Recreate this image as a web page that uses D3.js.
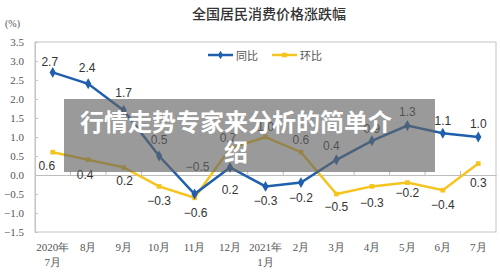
<!DOCTYPE html>
<html><head><meta charset="utf-8">
<script src="https://cdn.jsdelivr.net/npm/d3@7"></script>
<style>html,body{margin:0;padding:0;background:#fff;}svg{display:block;}</style>
</head><body>
<script>
const categories = ["2020年7月","8月","9月","10月","11月","12月","2021年1月","2月","3月","4月","5月","6月","7月"];
const xTickLabels = [["2020年","7月"],["8月"],["9月"],["10月"],["11月"],["12月"],["2021年","1月"],["2月"],["3月"],["4月"],["5月"],["6月"],["7月"]];
const yoyValues = [2.7, 2.4, 1.7, 0.5, -0.5, 0.2, -0.3, -0.2, 0.4, 0.9, 1.3, 1.1, 1.0];
const momValues = [0.6, 0.4, 0.2, -0.3, -0.6, 0.7, 1.0, 0.6, -0.5, -0.3, -0.2, -0.4, 0.3];
const yTicks = [-1.5, -1.0, -0.5, 0.0, 0.5, 1.0, 1.5, 2.0, 2.5, 3.0, 3.5];
const seriesNames = ["同比", "环比"];
const titleText = "全国居民消费价格涨跌幅";
const unitText = "(%)";
const overlayLines = ["行情走势专家来分析的简单介", "绍"];

// label placement (drawing style, not data)
const yoyLabelDy = [-10,-16,-17,-16,-27,23,15,15,-14,-12,-14,-12,-13];
const yoyLabelDx = [-3,-1,0,0,3,0,0,0,-5,0,0,0,0];
const momLabelDy = [14,15,14,15,15,-10,-10,-12,13,17,10,15,19];
const momLabelDx = [-6,-3,1,0,1,-2,0,0,0,0,0,0,0];

const W = 500, H = 272;
const blue = "#1f5fad", yellow = "#f4c41f";
const svg = d3.select("body").append("svg").attr("width", W).attr("height", H);

const x = d3.scaleBand().domain(categories).range([35, 496]);
const y = d3.scaleLinear().domain([-1.5, 3.5]).range([232, 42]);

// title
svg.append("text").attr("x", 269).attr("y", 19).attr("text-anchor","middle")
  .attr("font-family","Noto Sans CJK SC").attr("font-size",14).attr("font-weight",500)
  .attr("fill","#333").text(titleText);
svg.append("text").attr("x", 5).attr("y", 27)
  .attr("font-family","Liberation Serif").attr("font-size",10).attr("fill","#555").text(unitText);

// frame
svg.append("rect").attr("x",35).attr("y",42).attr("width",461).attr("height",190)
  .attr("fill","none").attr("stroke","#c4c4c4").attr("stroke-width",1);

// y axis
const yAxis = svg.append("g").attr("transform","translate(35,0)")
  .call(d3.axisLeft(y).tickValues(yTicks).tickFormat(d3.format(".1f")).tickSizeInner(-3).tickSizeOuter(0).tickPadding(11));
yAxis.select(".domain").attr("stroke","#c4c4c4");
yAxis.selectAll(".tick line").attr("stroke","#c4c4c4");
yAxis.selectAll("text").attr("font-family","Liberation Serif").attr("font-size",11).attr("fill","#555");

// zero line with boundary ticks
const zx = svg.append("g").attr("transform",`translate(0,${y(0)})`)
  .call(d3.axisBottom(x).tickSize(0).tickFormat(""));
zx.select(".domain").attr("stroke","#bdbdbd");
svg.append("g").selectAll("line").data(categories.slice(1)).join("line")
  .attr("x1", d => x(d)).attr("x2", d => x(d))
  .attr("y1", y(0)).attr("y2", y(0) - 4).attr("stroke","#bdbdbd");

// x tick labels
const xl = svg.append("g").attr("transform","translate(0,232)")
  .call(d3.axisBottom(x).tickSize(0).tickPadding(0).tickFormat(""));
xl.select(".domain").remove();
xl.selectAll(".tick").each(function(d, i) {
  const t = d3.select(this).append("text").attr("text-anchor","middle")
    .attr("font-family","Liberation Serif").attr("font-size",11).attr("fill","#555");
  xTickLabels[i].forEach((s, j) => t.append("tspan").attr("x",0).attr("y", 19 + j*15).text(s));
});

// lines
const line = d3.line().x((d,i) => x(categories[i]) + x.bandwidth()/2).y(d => y(d));
svg.append("path").datum(momValues).attr("d", line).attr("fill","none")
  .attr("stroke", yellow).attr("stroke-width", 2.5);
svg.append("path").datum(yoyValues).attr("d", line).attr("fill","none")
  .attr("stroke", blue).attr("stroke-width", 2.5);

const cx = i => x(categories[i]) + x.bandwidth()/2;
svg.append("g").selectAll("path").data(momValues).join("path")
  .attr("d", d3.symbol(d3.symbolSquare, 22))
  .attr("transform", (d,i) => `translate(${cx(i)},${y(d)})`).attr("fill", yellow);
svg.append("g").selectAll("path").data(yoyValues).join("path")
  .attr("d", d3.symbol(d3.symbolDiamond, 34))
  .attr("transform", (d,i) => `translate(${cx(i)},${y(d)})`).attr("fill", blue);

// data labels
const fmt = d3.format(".1f");
function labels(vals, dx, dy) {
  svg.append("g").selectAll("text").data(vals).join("text")
    .attr("x", (d,i) => cx(i) + dx[i]).attr("y", (d,i) => y(d) + dy[i])
    .attr("text-anchor","middle").attr("dominant-baseline","central")
    .attr("font-family","Liberation Sans").attr("font-size",12).attr("fill","#333")
    .text(d => fmt(d));
}
labels(yoyValues, yoyLabelDx, yoyLabelDy);
labels(momValues, momLabelDx, momLabelDy);

// legend
const legend = [{name: seriesNames[0], color: blue, sym: d3.symbolDiamond, x: 208},
                {name: seriesNames[1], color: yellow, sym: d3.symbolSquare, x: 272}];
const lg = svg.append("g").selectAll("g").data(legend).join("g")
  .attr("transform", d => `translate(${d.x},55)`);
lg.append("line").attr("x1",0).attr("x2",25).attr("stroke", d => d.color).attr("stroke-width",2.5);
lg.append("path").attr("d", d => d3.symbol(d.sym, 22)()).attr("transform","translate(12.5,0)").attr("fill", d => d.color);
lg.append("text").attr("x",28).attr("dominant-baseline","central")
  .attr("font-family","Noto Sans CJK SC").attr("font-size",11).attr("fill","#555").text(d => d.name);

// overlay
svg.append("rect").attr("x",64).attr("y",99).attr("width",371).attr("height",73)
  .attr("fill","rgba(100,100,100,0.65)");
svg.append("g").selectAll("text").data(overlayLines).join("text")
  .attr("x", 236).attr("y", (d,i) => 120 + i*30).attr("text-anchor","middle")
  .attr("dominant-baseline","central")
  .attr("font-family","Noto Sans CJK SC").attr("font-weight",700).attr("font-size",24)
  .attr("fill","#fff").text(d => d);
</script>
</body></html>
